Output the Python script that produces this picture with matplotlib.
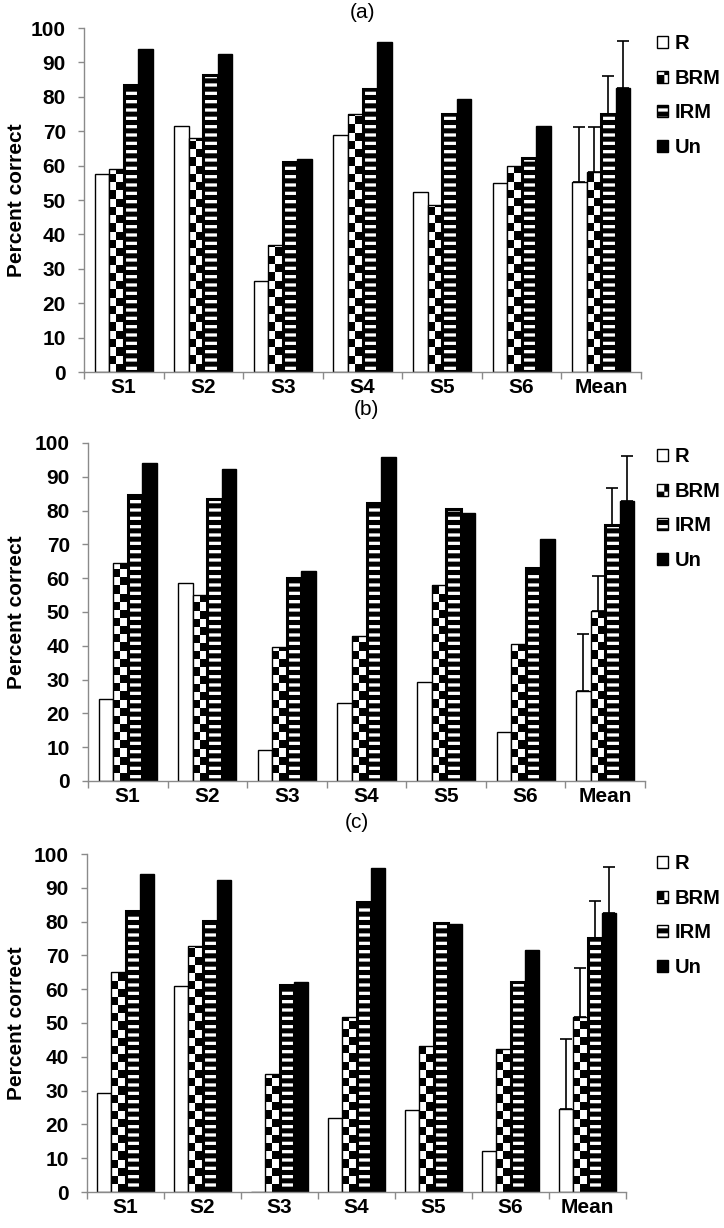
import warnings
warnings.filterwarnings("ignore")
import numpy as np
import matplotlib
matplotlib.use("Agg")
import matplotlib.pyplot as plt
import matplotlib.hatch as mhatch
import matplotlib.transforms as mtransforms
from matplotlib.path import Path
from matplotlib.patches import Patch

# ---------------- data ----------------
categories = ["S1", "S2", "S3", "S4", "S5", "S6", "Mean"]
series = ["R", "BRM", "IRM", "Un"]
panel_titles = ["(a)", "(b)", "(c)"]

a_R = [57.5, 71.5, 26.5, 69.0, 52.3, 55.0, 55.3]
a_BRM = [59.0, 68.0, 37.0, 75.0, 48.5, 60.0, 58.0]
a_IRM = [83.5, 86.3, 61.0, 82.3, 75.0, 62.3, 75.0]
a_Un = [94.0, 92.3, 62.0, 96.0, 79.4, 71.6, 82.5]
a_err = [16.0, 13.3, 11.0, 13.8]

b_R = [24.3, 58.5, 9.2, 23.0, 29.3, 14.6, 26.5]
b_BRM = [64.5, 55.0, 39.5, 43.0, 58.0, 40.5, 50.3]
b_IRM = [84.7, 83.3, 60.0, 82.3, 80.5, 63.0, 75.7]
b_Un = [94.0, 92.3, 62.0, 96.0, 79.4, 71.6, 82.7]
b_err = [17.1, 10.3, 10.9, 13.6]

c_R = [29.3, 61.0, 0.0, 21.8, 24.2, 12.2, 24.7]
c_BRM = [65.0, 72.7, 35.0, 51.8, 43.3, 42.2, 51.8]
c_IRM = [83.0, 80.3, 61.3, 85.8, 79.5, 62.0, 75.2]
c_Un = [94.0, 92.3, 62.0, 96.0, 79.4, 71.6, 82.5]
c_err = [20.5, 14.4, 10.8, 13.8]

panels = [
    ([a_R, a_BRM, a_IRM, a_Un], a_err),
    ([b_R, b_BRM, b_IRM, b_Un], b_err),
    ([c_R, c_BRM, c_IRM, c_Un], c_err),
]

# ---------------- custom fill patterns (legend swatch + stripes) ----------------
class CheckerHatch(mhatch.HatchPatternBase):
    nx, ny = 14, 12

    def __init__(self, hatch, density):
        on = 'k' in hatch
        self.cells = ([(i, j) for i in range(self.nx) for j in range(self.ny)
                       if (i + j) % 2 == 0] if on else [])
        self.num_vertices = 5 * len(self.cells)

    def set_vertices_and_codes(self, vertices, codes):
        dx, dy = 1.0 / self.nx, 1.0 / self.ny
        for n, (i, j) in enumerate(self.cells):
            x0, y0 = i * dx, j * dy
            vertices[5 * n:5 * n + 5] = [(x0, y0), (x0 + dx, y0), (x0 + dx, y0 + dy),
                                         (x0, y0 + dy), (x0, y0)]
            codes[5 * n:5 * n + 5] = [Path.MOVETO, Path.LINETO, Path.LINETO,
                                      Path.LINETO, Path.CLOSEPOLY]


class BandHatch(mhatch.HatchPatternBase):
    ny = 12
    frac = 0.60

    def __init__(self, hatch, density):
        self.n = self.ny if 'z' in hatch else 0
        self.num_vertices = 5 * self.n

    def set_vertices_and_codes(self, vertices, codes):
        dy = 1.0 / self.ny
        h = dy * self.frac
        for j in range(self.n):
            y0 = j * dy
            vertices[5 * j:5 * j + 5] = [(0, y0), (1, y0), (1, y0 + h), (0, y0 + h), (0, y0)]
            codes[5 * j:5 * j + 5] = [Path.MOVETO, Path.LINETO, Path.LINETO,
                                      Path.LINETO, Path.CLOSEPOLY]


mhatch._hatch_types.append(CheckerHatch)
mhatch._hatch_types.append(BandHatch)

plt.rcParams['hatch.linewidth'] = 0.05
plt.rcParams['font.family'] = ['Liberation Sans', 'DejaVu Sans']

styles = [
    dict(facecolor='white', edgecolor='black', linewidth=1.0, hatch=None),
    dict(facecolor='white', edgecolor='black', linewidth=1.0, hatch='k'),
    dict(facecolor='white', edgecolor='black', linewidth=2.2, hatch='z'),
    dict(facecolor='black', edgecolor='black', linewidth=1.0, hatch=None),
]

W, H = 724, 1228
fig = plt.figure(figsize=(W / 100, H / 100), dpi=100)

axes_px = [  # left, top, right, bottom in pixels
    (84, 28, 641, 372),
    (88, 443, 645, 781),
    (87, 854, 626, 1192),
]
title_pads = [7, 20, 19]
legend_tops = [34, 447, 854]

spine_col = '#8a8a8a'
bar_w = 0.183
checker_h = 2.4        # height of one checker cell, in percent units
x = np.arange(len(categories))

for p, ((vals, err), (l, t, r, b)) in enumerate(zip(panels, axes_px)):
    ax = fig.add_axes([l / W, 1 - b / H, (r - l) / W, (b - t) / H])
    for k, (name, v) in enumerate(zip(series, vals)):
        st = styles[k]
        if k == 1:
            bars = ax.bar(x + (k - 1.5) * bar_w, v, width=bar_w, facecolor='none',
                          edgecolor='black', linewidth=st['linewidth'], zorder=2.5)
            for rect in bars:
                x0, w, h = rect.get_x(), rect.get_width(), rect.get_height()
                nrows = int(np.ceil(h / checker_h))
                if nrows == 0:
                    continue
                arr = (np.add.outer(np.arange(nrows), np.arange(2)) % 2).astype(float)
                im = ax.imshow(arr, extent=(x0, x0 + w, 0, nrows * checker_h),
                               origin='lower', cmap='gray_r', vmin=0, vmax=1,
                               interpolation='nearest', aspect='auto', zorder=2)
                im.set_clip_path(rect)
        else:
            ax.bar(x + (k - 1.5) * bar_w, v, width=bar_w,
                   facecolor=st['facecolor'], edgecolor=st['edgecolor'],
                   linewidth=st['linewidth'], hatch=st['hatch'], zorder=2)
        # upper error bar on the Mean group
        xm = x[-1] + (k - 1.5) * bar_w
        ax.errorbar([xm], [v[-1]], yerr=[[0], [err[k]]], fmt='none',
                    ecolor='black', elinewidth=1.2, capsize=4, capthick=1.2, zorder=3)

    ax.set_xlim(-0.5, len(categories) - 0.5)
    ax.set_ylim(0, 100)
    ax.set_yticks(np.arange(0, 101, 10))
    ax.set_xticks(np.arange(-0.5, len(categories), 1))
    ax.set_xticklabels([])
    ax.set_xticks(x, minor=True)
    ax.set_xticklabels(categories, minor=True, fontsize=15, fontweight='bold')
    ax.tick_params(axis='x', which='major', length=5, width=1.0, color=spine_col,
                   direction='out')
    ax.tick_params(axis='x', which='minor', length=0, pad=4.5)
    ax.tick_params(axis='y', length=4, width=1.0, color=spine_col, pad=9,
                   labelsize=15)
    for lab in ax.get_yticklabels():
        lab.set_fontweight('bold')
    for s in ['top', 'right']:
        ax.spines[s].set_visible(False)
    for s in ['left', 'bottom']:
        ax.spines[s].set_color(spine_col)
        ax.spines[s].set_linewidth(1.0)

    ax.set_ylabel('Percent correct', fontsize=15, fontweight='bold')
    ax.yaxis.set_label_coords(26 / W, 0.5,
                              transform=mtransforms.blended_transform_factory(
                                  fig.transFigure, ax.transAxes))
    ax.set_title(panel_titles[p], fontsize=15, pad=title_pads[p])

    handles = [Patch(facecolor=st['facecolor'], edgecolor='black', linewidth=1.0,
                     hatch=st['hatch']) for st in styles]
    ax.legend(handles, series, loc='upper left',
              bbox_to_anchor=(657 / W, 1 - legend_tops[p] / H),
              bbox_transform=fig.transFigure, frameon=False,
              handlelength=0.55, handleheight=0.55, handletextpad=0.35,
              labelspacing=0.78, borderpad=0, borderaxespad=0,
              prop=dict(family='Liberation Sans', weight='bold', size=14.5))

fig.savefig('out.png', dpi=100)
